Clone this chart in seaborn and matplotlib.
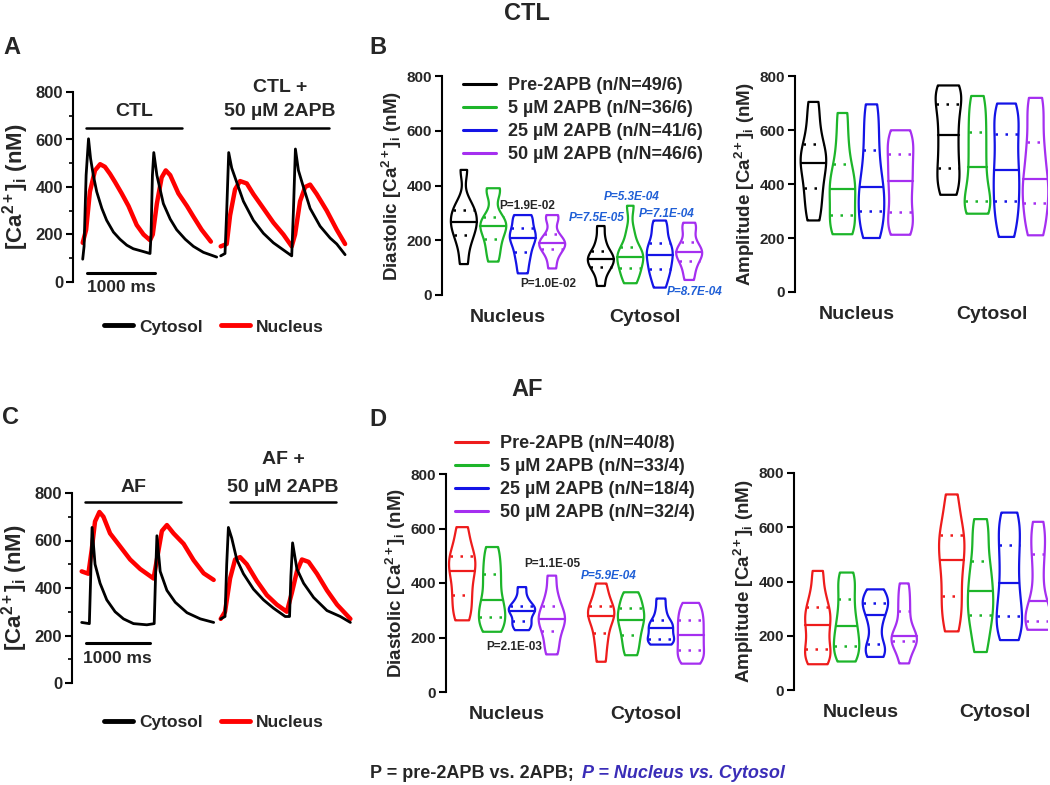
import numpy as np
import pandas as pd
import matplotlib.pyplot as plt
from matplotlib.lines import Line2D
from matplotlib.ticker import MultipleLocator
import seaborn as sns

W, H = 1050, 785

# ---------------- traces (panels A and C): time in ms, [Ca2+]i in nM ----------------
ctl_cyto_t = [0, 20, 50, 85, 115, 155, 205, 280, 350, 450, 545, 645, 740, 865, 985, 1000, 1020, 1040,
              1085, 1180, 1280, 1375, 1500, 1620, 1765, 1960]
ctl_cyto = [96, 150, 450, 603, 520, 450, 380, 310, 260, 210, 180, 155, 140, 130, 120, 200, 450, 545,
            450, 330, 265, 220, 180, 150, 125, 105]
ctl_nuc_t = [0, 50, 105, 180, 255, 325, 400, 475, 570, 670, 790, 890, 985, 1025, 1085, 1155, 1215, 1280,
             1400, 1525, 1620, 1740, 1875]
ctl_nuc = [165, 220, 380, 470, 496, 485, 455, 420, 373, 320, 240, 200, 176, 200, 330, 440, 470, 450,
           373, 320, 275, 220, 170]
ctl_apb_cyto_t = [0, 63, 88, 117, 161, 234, 332, 478, 625, 771, 917, 1039, 1064, 1093, 1137, 1210, 1308,
                  1454, 1601, 1698, 1820]
ctl_apb_cyto = [110, 120, 300, 545, 480, 420, 340, 260, 205, 165, 135, 110, 300, 560, 470, 400, 310,
                235, 185, 160, 115]
ctl_apb_nuc_t = [0, 88, 137, 210, 283, 381, 478, 625, 771, 917, 1039, 1088, 1161, 1235, 1308, 1405, 1552,
                 1698, 1820]
ctl_apb_nuc = [150, 160, 280, 390, 425, 415, 370, 310, 250, 200, 150, 200, 340, 400, 410, 370, 300, 220, 160]

af_cyto_t = [0, 119, 140, 161, 207, 285, 389, 518, 648, 803, 1010, 1124, 1145, 1166, 1217, 1321, 1450,
             1632, 1839, 2046]
af_cyto = [255, 250, 450, 655, 500, 420, 350, 300, 270, 250, 245, 250, 450, 620, 470, 390, 340, 296, 270, 255]
af_nuc_t = [0, 104, 155, 207, 275, 337, 440, 596, 751, 907, 1114, 1166, 1243, 1321, 1424, 1580, 1735,
            1891, 2046]
af_nuc = [470, 460, 560, 680, 720, 700, 630, 575, 520, 480, 440, 520, 640, 665, 630, 586, 517, 462, 434]
af_apb_cyto_t = [0, 67, 93, 119, 171, 249, 352, 508, 663, 818, 1000, 1067, 1088, 1114, 1181, 1285, 1440,
                 1647, 1854, 2010]
af_apb_cyto = [270, 280, 500, 655, 610, 520, 460, 395, 350, 315, 280, 280, 450, 590, 480, 420, 360, 305, 280, 255]
af_apb_nuc_t = [0, 67, 145, 223, 300, 404, 559, 715, 870, 1025, 1103, 1181, 1259, 1362, 1492, 1647, 1803, 2010]
af_apb_nuc = [270, 300, 440, 520, 530, 500, 430, 370, 330, 300, 380, 470, 520, 510, 460, 390, 330, 270]

# ---------------- violin samples (nM) ----------------
locations = ['Nucleus', 'Cytosol']
conds = ['Pre-2APB', '5 µM 2APB', '25 µM 2APB', '50 µM 2APB']
ctl_n = ['49/6', '36/6', '41/6', '46/6']
af_n = ['40/8', '33/4', '18/4', '32/4']

ctl_dia_nuc = [[113, 180, 219, 245, 265, 285, 310, 335, 457],
               [122, 165, 203, 235, 253, 268, 284, 375, 390],
               [79, 125, 158, 190, 207, 225, 244, 282, 292],
               [97, 140, 167, 180, 189, 200, 222, 275, 292]]
ctl_dia_cyt = [[33, 80, 104, 120, 131, 145, 162, 200, 252],
               [43, 75, 97, 125, 140, 155, 174, 230, 326],
               [27, 70, 95, 125, 146, 170, 191, 235, 272],
               [55, 95, 125, 145, 156, 170, 195, 240, 264]]
ctl_amp_nuc = [[265, 330, 386, 440, 479, 510, 547, 620, 704],
               [214, 240, 286, 340, 383, 420, 473, 560, 663],
               [200, 250, 300, 350, 389, 450, 527, 610, 695],
               [212, 250, 296, 360, 410, 460, 512, 560, 599]]
ctl_amp_cyt = [[360, 410, 459, 520, 580, 640, 698, 740, 765],
               [290, 315, 336, 400, 463, 530, 593, 660, 726],
               [204, 280, 336, 400, 451, 520, 586, 650, 698],
               [210, 270, 331, 380, 420, 490, 556, 650, 719]]
af_dia_nuc = [[263, 310, 355, 400, 443, 470, 500, 540, 605],
              [221, 250, 276, 310, 337, 390, 433, 480, 532],
              [227, 245, 260, 285, 299, 308, 317, 345, 385],
              [138, 180, 223, 250, 268, 290, 315, 360, 427]]
af_dia_cyt = [[111, 170, 215, 255, 280, 295, 315, 350, 398],
              [135, 175, 209, 240, 263, 285, 307, 335, 366],
              [174, 185, 193, 215, 234, 248, 263, 300, 343],
              [104, 130, 154, 185, 210, 240, 266, 295, 327]]
af_amp_nuc = [[95, 125, 150, 200, 241, 275, 305, 360, 439],
              [105, 135, 164, 200, 235, 280, 334, 390, 433],
              [122, 145, 168, 230, 275, 305, 322, 345, 371],
              [98, 150, 180, 190, 198, 240, 292, 340, 393]]
af_amp_cyt = [[216, 290, 346, 420, 478, 530, 571, 630, 721],
              [140, 220, 275, 320, 365, 420, 474, 560, 630],
              [184, 230, 274, 330, 395, 470, 536, 600, 654],
              [222, 240, 255, 290, 329, 420, 500, 560, 620]]

ctl_p_black = [('P=1.9E-02', 527, 206), ('P=1.0E-02', 548, 284)]
ctl_p_blue = [('P=7.5E-05', 597, 218), ('P=5.3E-04', 632, 197), ('P=7.1E-04', 667, 214), ('P=8.7E-04', 695, 292)]
af_p_black = [('P=1.1E-05', 552, 564), ('P=2.1E-03', 514, 647)]
af_p_blue = [('P=5.9E-04', 609, 576)]

ctl_colors = ['#000000', '#1db52a', '#1414e6', '#a52ff0']
af_colors = ['#ee1c1c', '#1db52a', '#1414e6', '#a52ff0']
p_blue = '#1f5fd6'

sns.set_theme(style='ticks')
plt.rcParams['font.family'] = ['Liberation Sans', 'DejaVu Sans']
plt.rcParams['font.weight'] = 'bold'
plt.rcParams['axes.labelweight'] = 'bold'
plt.rcParams['mathtext.fontset'] = 'custom'
plt.rcParams['mathtext.rm'] = 'Liberation Sans:bold'
plt.rcParams['mathtext.it'] = 'Liberation Sans:bold'
plt.rcParams['mathtext.bf'] = 'Liberation Sans:bold'

fig = plt.figure(figsize=(10.5, 7.85), dpi=100)


def px_axes(l, t, r, b):
    return fig.add_axes([l / W, 1 - b / H, (r - l) / W, (b - t) / H])


def ftext(x, y, s, **kw):
    fig.text(x / W, 1 - y / H, s, ha=kw.pop('ha', 'center'), va=kw.pop('va', 'center'),
             fontweight='bold', **kw)


def style_y(ax, label, size, label_size, label_x, minor=False):
    ax.set_ylim(0, 800)
    ax.set_yticks(range(0, 801, 200))
    if minor:
        ax.yaxis.set_minor_locator(MultipleLocator(100))
    for s in ['top', 'right', 'bottom']:
        ax.spines[s].set_visible(False)
    ax.spines['left'].set_linewidth(1.5)
    ax.spines['left'].set_color('black')
    ax.spines['left'].set_bounds(0, 800)
    ax.tick_params(axis='y', which='major', length=5, width=1.5, labelsize=size, color='black', pad=2)
    ax.tick_params(axis='y', which='minor', length=3, width=1.2, color='black')
    ax.set_ylabel(label, fontsize=label_size, fontweight='bold')
    ax.yaxis.set_label_coords(label_x, 0.5)
    ax.set_facecolor('none')


def trace_panel(ax, pre, apb, offset, xlim, cond, bar_y, text_y, sb_y, sbt_y):
    # nucleus first (red), then cytosol (black) on top
    sns.lineplot(x=np.array(pre[2]), y=pre[3], color='red', lw=3.2, ax=ax, estimator=None, sort=False)
    sns.lineplot(x=np.array(apb[2]) + offset, y=apb[3], color='red', lw=3.2, ax=ax, estimator=None, sort=False)
    sns.lineplot(x=np.array(pre[0]), y=pre[1], color='black', lw=2.0, ax=ax, estimator=None, sort=False)
    sns.lineplot(x=np.array(apb[0]) + offset, y=apb[1], color='black', lw=2.0, ax=ax, estimator=None, sort=False)
    ax.set_xlim(*xlim)
    ax.set_xticks([])
    ax.set_xlabel('')
    # treatment bars and labels
    end_pre = max(pre[0])
    end_apb = max(apb[0]) + offset
    ax.plot([50, end_pre - 500], [bar_y, bar_y], color='black', lw=1.8, clip_on=False)
    ax.plot([offset + 150, end_apb - 230], [bar_y, bar_y], color='black', lw=1.8, clip_on=False)
    ax.text((50 + end_pre - 500) / 2, text_y[0], cond, ha='center', va='center', fontsize=14,
            fontweight='bold', clip_on=False)
    ax.text((offset + 150 + end_apb - 230) / 2, text_y[1], cond + ' +', ha='center', va='center',
            fontsize=14, fontweight='bold', clip_on=False)
    ax.text((offset + 150 + end_apb - 230) / 2, text_y[0], '50 µM 2APB', ha='center', va='center',
            fontsize=14, fontweight='bold', clip_on=False)
    # scale bar
    ax.plot([60, 1060], [sb_y, sb_y], color='black', lw=2.2, clip_on=False)
    ax.text(560, sbt_y, '1000 ms', ha='center', va='center', fontsize=12.5, fontweight='bold', clip_on=False)


def violin_panel(ax, nuc, cyt, colors, xlim, label, label_x):
    rows = []
    for loc, groups in zip(locations, [nuc, cyt]):
        for cond, vals in zip(conds, groups):
            for v in vals:
                rows.append({'loc': loc, 'cond': cond, 'value': v})
    df = pd.DataFrame(rows)
    sns.violinplot(data=df, x='loc', y='value', hue='cond', order=locations, hue_order=conds,
                   palette=colors, fill=False, inner='quart', cut=0, density_norm='width',
                   width=0.86, gap=0.12, linewidth=1.6, bw_adjust=0.6, legend=False, ax=ax)
    for i, ln in enumerate(ax.lines):
        if i % 3 == 1:
            ln.set_linestyle('-')
            ln.set_linewidth(1.6)
        else:
            ln.set_linestyle((0, (1, 3)))
            ln.set_linewidth(1.8)
    ax.set_xlim(*xlim)
    ax.set_xlabel('')
    ax.tick_params(axis='x', length=0, labelsize=14, pad=10)
    for tl in ax.get_xticklabels():
        tl.set_fontweight('bold')
    style_y(ax, label, 11, 13.5, label_x)


def legend_at(ax, colors, ns, x, y):
    handles = [Line2D([0], [0], color=c, lw=2.2) for c in colors]
    labels = [f'{c} (n/N={n})' for c, n in zip(conds, ns)]
    ax.legend(handles, labels, loc='upper left', bbox_to_anchor=(x / W, 1 - y / H),
              bbox_transform=fig.transFigure, frameon=False, borderpad=0, borderaxespad=0,
              handlelength=1.8, handletextpad=0.7, labelspacing=0.33,
              prop={'weight': 'bold', 'size': 13})


def trace_legend(ax, y):
    handles = [Line2D([0], [0], color='black', lw=3.5), Line2D([0], [0], color='red', lw=3.5)]
    ax.legend(handles, ['Cytosol', 'Nucleus'], loc='center', ncol=2, bbox_to_anchor=(214 / W, 1 - y / H),
              bbox_transform=fig.transFigure, frameon=False, handlelength=1.7, handletextpad=0.35,
              columnspacing=1.0, prop={'weight': 'bold', 'size': 12.5})


ca_label = '[Ca$^{2+}$]$_{i}$ (nM)'

# ---- Panel A
axA = px_axes(73, 92, 360, 282)
trace_panel(axA, (ctl_cyto_t, ctl_cyto, ctl_nuc_t, ctl_nuc),
            (ctl_apb_cyto_t, ctl_apb_cyto, ctl_apb_nuc_t, ctl_apb_nuc),
            2019, (-142, 4057), 'CTL', 648, (716, 817), 38, -25)
style_y(axA, ca_label, 12, 16, -42 / 287, minor=True)
trace_legend(axA, 327)

# ---- Panel B
axB1 = px_axes(442, 76, 712, 295)
violin_panel(axB1, ctl_dia_nuc, ctl_dia_cyt, ctl_colors, (-0.482, 1.489), 'Diastolic ' + ca_label, -38 / 270)
legend_at(axB1, ctl_colors, ctl_n, 463, 77)
axB2 = px_axes(795, 76, 1048, 292)
violin_panel(axB2, ctl_amp_nuc, ctl_amp_cyt, ctl_colors, (-0.459, 1.415), 'Amplitude ' + ca_label, -38 / 253)

# ---- Panel C
axC = px_axes(72, 493, 360, 683)
trace_panel(axC, (af_cyto_t, af_cyto, af_nuc_t, af_nuc),
            (af_apb_cyto_t, af_apb_cyto, af_apb_nuc_t, af_apb_nuc),
            2155, (-150, 4314), 'AF', 762, (825, 939), 168, 105)
style_y(axC, ca_label, 12, 16, -42 / 288, minor=True)
trace_legend(axC, 722)

# ---- Panel D
axD1 = px_axes(446, 474, 712, 692)
violin_panel(axD1, af_dia_nuc, af_dia_cyt, af_colors, (-0.439, 1.475), 'Diastolic ' + ca_label, -38 / 266)
legend_at(axD1, af_colors, af_n, 455, 435)
axD2 = px_axes(794, 473, 1048, 690)
violin_panel(axD2, af_amp_nuc, af_amp_cyt, af_colors, (-0.5, 1.396), 'Amplitude ' + ca_label, -38 / 254)

# ---- titles, panel letters, p-values
ftext(527, 14, 'CTL', fontsize=17)
ftext(527, 389, 'AF', fontsize=17)
for letter, x, y in [('A', 12, 47), ('B', 378, 47), ('C', 10, 418), ('D', 378, 420)]:
    ftext(x, y, letter, fontsize=17)
for s, x, y in ctl_p_black + af_p_black:
    ftext(x, y, s, fontsize=8.5)
for s, x, y in ctl_p_blue + af_p_blue:
    ftext(x, y, s, fontsize=8.5, color=p_blue, style='italic')

ftext(574, 773, 'P = pre-2APB vs. 2APB;', fontsize=13, ha='right')
ftext(582, 773, 'P = Nucleus vs. Cytosol', fontsize=13, ha='left', color='#3a2db8', style='italic')

fig.savefig('out.png', dpi=100)
